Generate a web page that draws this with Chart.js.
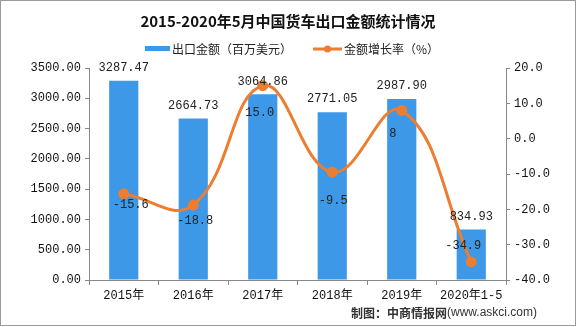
<!DOCTYPE html>
<html>
<head>
<meta charset="utf-8">
<script src="https://cdn.jsdelivr.net/npm/chart.js@4/dist/chart.umd.min.js"></script>
<style>
  html, body { margin: 0; padding: 0; background: #fff; }
  #wrap { width: 576px; height: 327px; }
</style>
</head>
<body>
<div id="wrap"><canvas id="chart" width="576" height="327"></canvas></div>
<script>
// chart data
const categories = ['2015年', '2016年', '2017年', '2018年', '2019年', '2020年1-5'];
const exportValues = [3287.47, 2664.73, 3064.86, 2771.05, 2987.90, 834.93];
const growthRates = [-15.6, -18.8, 15.0, -9.5, 8, -34.9];
const growthText = ['-15.6', '-18.8', '15.0', '-9.5', '8', '-34.9'];
const leftTicks = [0, 500, 1000, 1500, 2000, 2500, 3000, 3500];
const rightTicks = [-40, -30, -20, -10, 0, 10, 20];

const titleText = '2015-2020年5月中国货车出口金额统计情况';
const barLabel = '出口金额（百万美元）';
const lineLabel = '金额增长率（%）';

const BLUE = '#3d98e8';
const ORANGE = '#ed7d31';
const MONO = '"Liberation Mono", "Noto Sans CJK SC", monospace';
const CJK = '"Noto Sans CJK SC", sans-serif';

// label nudges for the growth-rate values (dx, dy from the point)
const rateLabelShift = [[7, 11], [2, 16], [-3, 27], [1, 29], [-9, 23], [-8, -16]];

const extras = {
  id: 'extras',
  afterDatasetsDraw(chart) {
    const ctx = chart.ctx;
    ctx.save();
    ctx.font = '12px ' + MONO;
    ctx.fillStyle = '#222';
    ctx.textAlign = 'center';
    ctx.textBaseline = 'middle';
    // bar values
    chart.getDatasetMeta(0).data.forEach((bar, i) => {
      ctx.fillText(exportValues[i].toFixed(2), bar.x, bar.y - 13);
    });
    // rate values
    chart.getDatasetMeta(1).data.forEach((pt, i) => {
      const s = rateLabelShift[i];
      ctx.fillText(growthText[i], pt.x + s[0], pt.y + s[1]);
    });
    ctx.restore();
  },
  afterDraw(chart) {
    const ctx = chart.ctx;
    ctx.save();
    // title
    ctx.fillStyle = '#111';
    ctx.font = 'bold 15px ' + CJK;
    ctx.textAlign = 'center';
    ctx.textBaseline = 'middle';
    ctx.fillText(titleText, 288, 21);

    // legend
    ctx.textAlign = 'left';
    ctx.font = '12px ' + CJK;
    ctx.fillStyle = BLUE;
    ctx.fillRect(145, 46, 25, 5);
    ctx.fillStyle = '#222';
    ctx.fillText(barLabel, 172, 49);

    ctx.strokeStyle = ORANGE;
    ctx.lineWidth = 3;
    ctx.beginPath();
    ctx.moveTo(313, 49);
    ctx.lineTo(342, 49);
    ctx.stroke();
    ctx.fillStyle = ORANGE;
    ctx.beginPath();
    ctx.arc(327.5, 49, 3.5, 0, Math.PI * 2);
    ctx.fill();
    ctx.fillStyle = '#222';
    ctx.fillText(lineLabel, 344, 49);

    // source note
    ctx.textAlign = 'right';
    ctx.font = '12px "Liberation Sans", Arial, sans-serif';
    const src = '(www.askci.com)';
    ctx.fillStyle = '#333';
    ctx.fillText(src, 537, 313);
    const w = ctx.measureText(src).width;
    ctx.font = 'bold 12px ' + CJK;
    ctx.fillText('制图：中商情报网', 537 - w, 313);

    // outer frame
    ctx.strokeStyle = '#9a9a9a';
    ctx.lineWidth = 1;
    ctx.strokeRect(0.5, 0.5, 575, 325);
    ctx.restore();
  }
};

const ctx = document.getElementById('chart').getContext('2d');

const chart = new Chart(ctx, {
  data: {
    labels: categories,
    datasets: [
      {
        type: 'bar',
        label: barLabel,
        data: exportValues,
        backgroundColor: BLUE,
        yAxisID: 'y',
        barPercentage: 0.42,
        categoryPercentage: 1.0,
        order: 2
      },
      {
        type: 'line',
        label: lineLabel,
        data: growthRates,
        borderColor: ORANGE,
        backgroundColor: ORANGE,
        borderWidth: 3,
        pointRadius: 4,
        pointHoverRadius: 4,
        tension: 0.42,
        yAxisID: 'y1',
        order: 1
      }
    ]
  },
  options: {
    responsive: false,
    animation: false,
    events: [],
    layout: { padding: { top: 68, left: 0, right: 0, bottom: 0 } },
    plugins: {
      legend: { display: false },
      title: { display: false },
      tooltip: { enabled: false }
    },
    scales: {
      x: {
        offset: true,
        grid: { display: true, drawOnChartArea: false, offset: true, tickLength: 5, color: '#888' },
        border: { display: true, color: '#888' },
        ticks: { color: '#111', font: { size: 12, family: MONO }, padding: 4, maxRotation: 0 },
        afterFit: s => { s.height = 47; }
      },
      y: {
        position: 'left',
        min: 0,
        max: 3500,
        afterBuildTicks: s => { s.ticks = leftTicks.map(v => ({ value: v })); },
        grid: { display: true, drawOnChartArea: false, tickLength: 4, color: '#888' },
        border: { display: true, color: '#888' },
        ticks: {
          color: '#111',
          font: { size: 12, family: MONO },
          padding: 4,
          callback: v => Number(v).toFixed(2)
        },
        afterFit: s => { s.width = 89; }
      },
      y1: {
        position: 'right',
        min: -40,
        max: 20,
        afterBuildTicks: s => { s.ticks = rightTicks.map(v => ({ value: v })); },
        grid: { display: true, drawOnChartArea: false, tickLength: 4, color: '#888' },
        border: { display: true, color: '#888' },
        ticks: {
          color: '#111',
          font: { size: 12, family: MONO },
          padding: 4,
          callback: v => Number(v).toFixed(1)
        },
        afterFit: s => { s.width = 70; }
      }
    }
  },
  plugins: [extras]
});
</script>
</body>
</html>
